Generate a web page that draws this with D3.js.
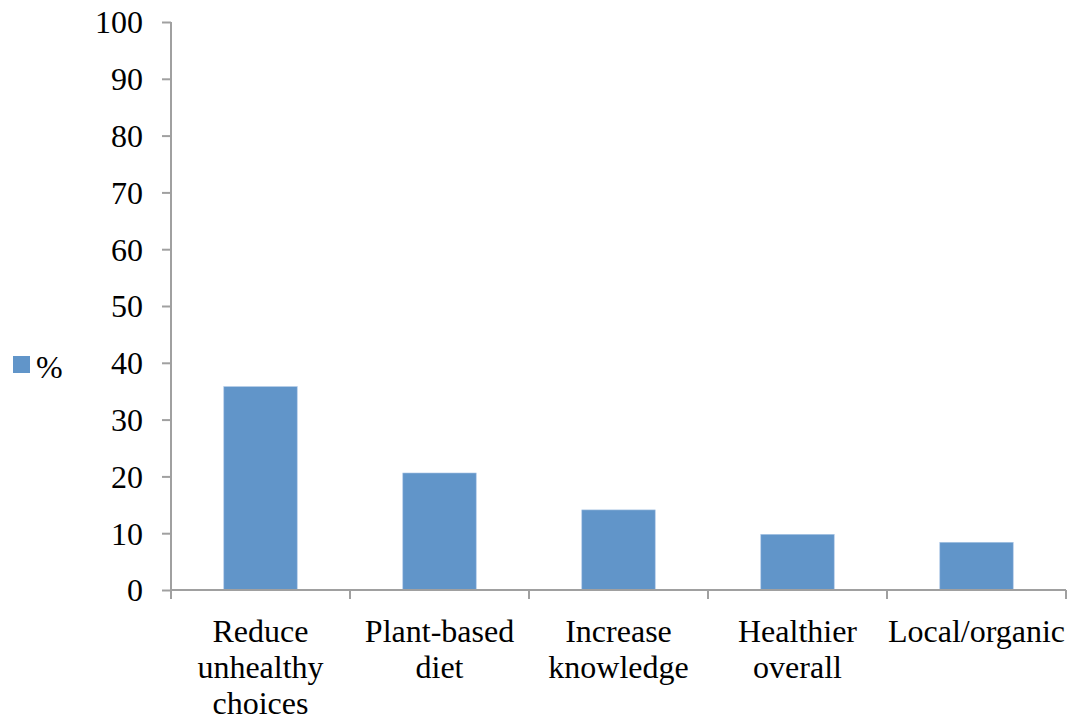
<!DOCTYPE html>
<html>
<head>
<meta charset="utf-8">
<script src="https://cdn.jsdelivr.net/npm/d3@7"></script>
<style>
  html, body { margin: 0; padding: 0; background: #fff; }
  svg { display: block; }
  text { font-family: "Liberation Serif", "Times New Roman", serif; fill: #000; }
</style>
</head>
<body>
<svg id="chart" width="1069" height="717"></svg>
<script>
// Share of respondents (%) by type of dietary change
const categories = ["Reduce unhealthy choices", "Plant-based diet", "Increase knowledge", "Healthier overall", "Local/organic"];
const categoryLines = [["Reduce", "unhealthy", "choices"], ["Plant-based", "diet"], ["Increase", "knowledge"], ["Healthier", "overall"], ["Local/organic"]];
const values = [35.8, 20.6, 14.1, 9.8, 8.4];
const yTicks = [0, 10, 20, 30, 40, 50, 60, 70, 80, 90, 100];
const seriesName = "%";

const svg = d3.select("#chart");
const plotLeft = 171, plotRight = 1066, plotTop = 22, plotBottom = 590;
const axisColor = "#a0a0a0";
const barColor = "#6195c9";

const x = d3.scaleBand().domain(categories).range([plotLeft, plotRight]).padding(0);
const y = d3.scaleLinear().domain([0, 100]).range([plotBottom, plotTop]);
const barFrac = 0.41;

// Bars
svg.append("g").selectAll("rect")
  .data(values)
  .join("rect")
  .attr("x", (d, i) => x(categories[i]) + x.bandwidth() * (1 - barFrac) / 2)
  .attr("width", x.bandwidth() * barFrac)
  .attr("y", d => y(d))
  .attr("height", d => y(0) - y(d))
  .attr("fill", barColor)
  .attr("stroke", "#a9c5e4")
  .attr("stroke-width", 0.6);

// Y axis
const yAxis = svg.append("g")
  .attr("transform", `translate(${plotLeft},0)`)
  .attr("font-family", null)
  .call(d3.axisLeft(y).tickValues(yTicks).tickSize(9).tickPadding(19).tickFormat(d3.format("d")));
yAxis.attr("font-family", null);
yAxis.select(".domain").remove();
yAxis.append("line").attr("x1", 0).attr("x2", 0).attr("y1", plotTop).attr("y2", plotBottom + 9)
  .attr("stroke", axisColor).attr("stroke-width", 2);
yAxis.selectAll(".tick line").attr("stroke", axisColor).attr("stroke-width", 2);
yAxis.selectAll(".tick text")
  .style("font-family", '"Liberation Serif", "Times New Roman", serif')
  .style("font-size", "32px").attr("fill", "#000").attr("dy", "0.34em");

// X axis with ticks at band boundaries
const xg = svg.append("g");
xg.append("line").attr("x1", plotLeft).attr("x2", plotRight).attr("y1", plotBottom).attr("y2", plotBottom)
  .attr("stroke", axisColor).attr("stroke-width", 2);
const bounds = categories.map(c => x(c) + x.bandwidth());
xg.selectAll("line.tk").data(bounds).join("line").attr("class", "tk")
  .attr("x1", d => d).attr("x2", d => d).attr("y1", plotBottom).attr("y2", plotBottom + 9)
  .attr("stroke", axisColor).attr("stroke-width", 2);

// Category labels
const labels = xg.selectAll("text.cat").data(categories).join("text").attr("class", "cat")
  .attr("text-anchor", "middle")
  .style("font-size", "32px");
labels.each(function(c, i) {
  const t = d3.select(this);
  categoryLines[i].forEach((line, j) => {
    t.append("tspan").attr("x", x(c) + x.bandwidth() / 2).attr("y", 642 + j * 36).text(line);
  });
});

// Legend
const lg = svg.append("g");
lg.append("rect").attr("x", 13).attr("y", 356).attr("width", 17).attr("height", 17).attr("fill", barColor);
lg.append("text").attr("x", 36).attr("y", 378).style("font-size", "32px").text(seriesName);
</script>
</body>
</html>
